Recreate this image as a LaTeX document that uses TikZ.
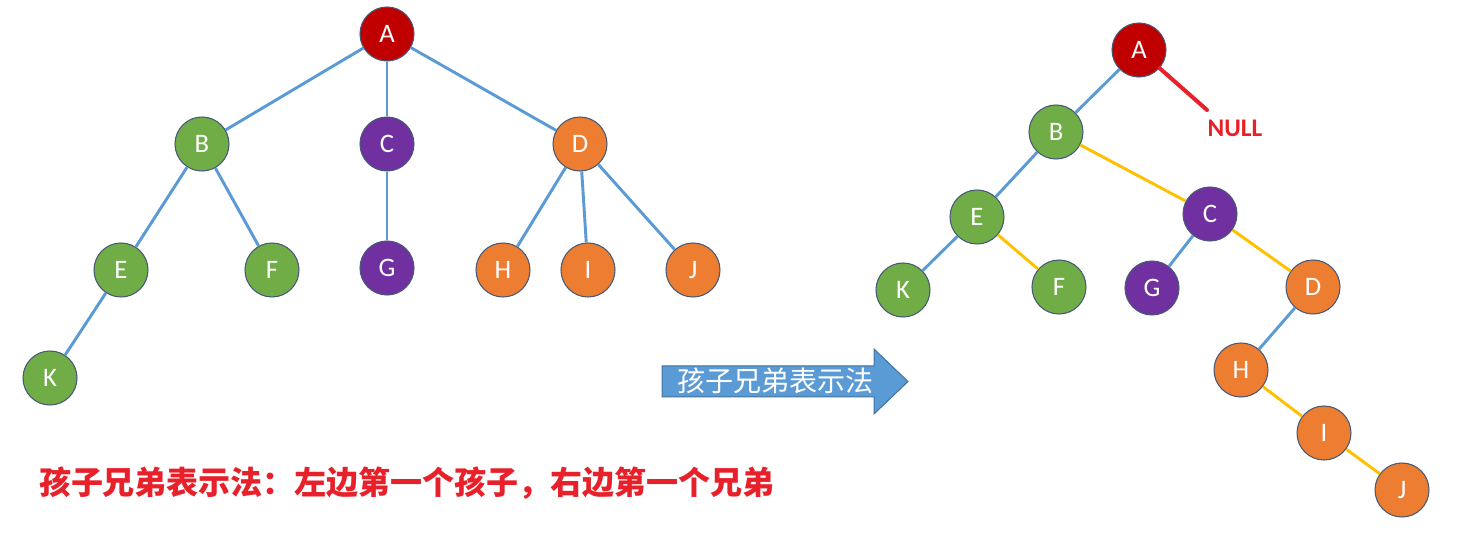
\documentclass[tikz,border=0pt]{standalone}
\usepackage{fontspec}
\setmainfont{Carlito}
\newfontfamily\cjk{Noto Sans CJK SC}
\usepackage{tikz}
\tikzset{every picture/.style={line width=0.75pt}}

\definecolor{treered}{RGB}{192,0,0}
\definecolor{treegreen}{RGB}{112,173,71}
\definecolor{treepurple}{RGB}{112,48,160}
\definecolor{treeorange}{RGB}{237,125,49}
\definecolor{treerim}{RGB}{70,90,120}
\definecolor{edgeblue}{RGB}{91,155,213}
\definecolor{edgeyellow}{RGB}{255,192,0}
\definecolor{arrowrim}{RGB}{65,113,156}
\definecolor{notered}{RGB}{232,32,42}

\tikzset{
  tnode/.style={circle, draw=treerim, line width=0.8pt, minimum size=40.5pt, inner sep=0pt, text=white, font=\fontsize{20}{20}\selectfont},
  rnode/.style={tnode, fill=treered},
  gnode/.style={tnode, fill=treegreen},
  pnode/.style={tnode, fill=treepurple},
  onode/.style={tnode, fill=treeorange},
  childedge/.style={draw=edgeblue, line width=2.2pt},
  siblingedge/.style={draw=edgeyellow, line width=2.2pt},
  nulledge/.style={draw=notered, line width=3pt, line cap=round}
}

\begin{document}
\begin{tikzpicture}[x=0.75pt,y=0.75pt,yscale=-1,xscale=1]
\path[use as bounding box] (0,0) rectangle (1461,538);

% left tree
\node (A) [rnode] at (387,34) {A};
\node (B) [gnode] at (202,144) {B};
\node (C) [pnode] at (387,144) {C};
\node (D) [onode] at (580,144) {D};
\node (E) [gnode] at (121,270) {E};
\node (F) [gnode] at (272,270) {F};
\node (G) [pnode] at (387,268) {G};
\node (H) [onode] at (503,270) {H};
\node (I) [onode] at (588,270) {I};
\node (J) [onode] at (693,270) {J};
\node (K) [gnode] at (50,378) {K};

\draw [childedge] (A) -- (B);
\draw [childedge] (A) -- (C);
\draw [childedge] (A) -- (D);
\draw [childedge] (B) -- (E);
\draw [childedge] (B) -- (F);
\draw [childedge] (C) -- (G);
\draw [childedge] (D) -- (H);
\draw [childedge] (D) -- (I);
\draw [childedge] (D) -- (J);
\draw [childedge] (E) -- (K);

% arrow
\draw [fill=edgeblue, draw=arrowrim, line width=0.75pt] (662,366) -- (874,366) -- (874,349) -- (908,381.5) -- (874,414) -- (874,397) -- (662,397) -- cycle;
\node (label) [text=white, font=\cjk\fontsize{21}{21}\selectfont, inner sep=0pt] at (775,381) {孩子兄弟表示法};

% right tree
\node (A2) [rnode] at (1139,50) {A};
\node (B2) [gnode] at (1056,132) {B};
\node (C2) [pnode] at (1210,214) {C};
\node (D2) [onode] at (1313,287) {D};
\node (E2) [gnode] at (977,217) {E};
\node (F2) [gnode] at (1059,287) {F};
\node (G2) [pnode] at (1152,288) {G};
\node (H2) [onode] at (1241,370) {H};
\node (I2) [onode] at (1324,433) {I};
\node (J2) [onode] at (1402,490) {J};
\node (K2) [gnode] at (903,290) {K};

\draw [childedge] (A2) -- (B2);
\draw [childedge] (B2) -- (E2);
\draw [siblingedge] (B2) -- (C2);
\draw [childedge] (E2) -- (K2);
\draw [siblingedge] (E2) -- (F2);
\draw [childedge] (C2) -- (G2);
\draw [siblingedge] (C2) -- (D2);
\draw [childedge] (D2) -- (H2);
\draw [siblingedge] (H2) -- (I2);
\draw [siblingedge] (I2) -- (J2);

\coordinate (nullend) at (1207,110);
\draw [nulledge] (A2) -- (nullend);
\node (null) [text=notered, font=\bfseries\fontsize{19}{19}\selectfont, inner sep=0pt] at (1235,128) {NULL};

% caption
\node (caption) [text=notered, font=\cjk\bfseries\fontsize{24}{24}\selectfont, inner sep=0pt] at (407,483) {孩子兄弟表示法：左边第一个孩子，右边第一个兄弟};

\end{tikzpicture}
\end{document}
